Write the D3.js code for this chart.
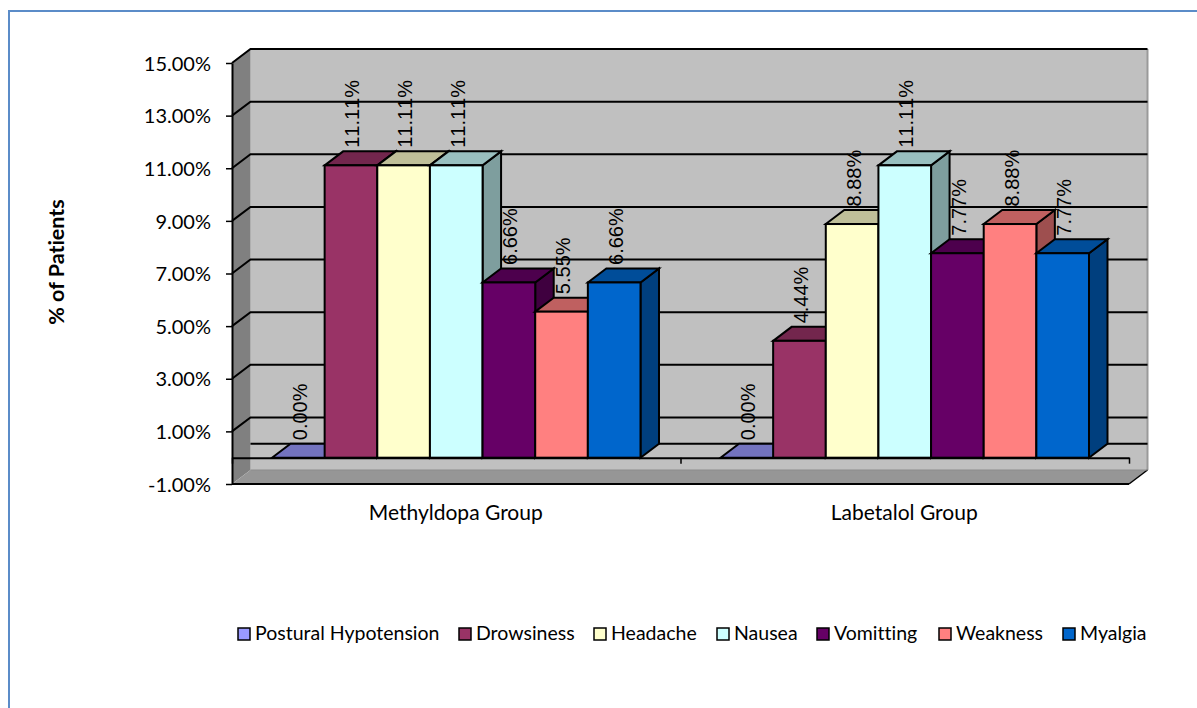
<!DOCTYPE html>
<html>
<head>
<meta charset="utf-8">
<script src="https://cdn.jsdelivr.net/npm/d3@7/dist/d3.min.js"></script>
<style>
  html, body { margin: 0; padding: 0; background: #fff; overflow: hidden; }
  svg { display: block; }
  text { fill: #000; font-variant-ligatures: none; }
</style>
</head>
<body>
<svg id="chart" width="1197" height="708"></svg>
<script>
// Adverse effects by treatment group, percent of patients
const groups = ["Methyldopa Group", "Labetalol Group"];
const effects = ["Postural Hypotension", "Drowsiness", "Headache", "Nausea", "Vomitting", "Weakness", "Myalgia"];
const methyldopa = [0, 11.11, 11.11, 11.11, 6.66, 5.55, 6.66];
const labetalol = [0, 4.44, 8.88, 11.11, 7.77, 8.88, 7.77];
const colours = ["#9999FF", "#993366", "#FFFFCC", "#CCFFFF", "#660066", "#FF8080", "#0066CC"];
const yTicks = [-1, 1, 3, 5, 7, 9, 11, 13, 15];
const legendX = [238, 459, 594, 717, 817, 939, 1063];

const seriesByGroup = [methyldopa, labetalol];
const fmt = v => v.toFixed(2) + "%";

// Oblique projection: the back wall sits up and to the right of the front plane
const depthX = 18.5, depthY = -14;
const y = d3.scaleLinear().domain([-1, 15]).range([484, 63]);
const x0 = d3.scaleBand().domain(groups).range([232, 1129]).paddingInner(0).paddingOuter(0);
const x1 = d3.scaleBand().domain(effects).range([0, x0.bandwidth()]).paddingInner(0).paddingOuter(0.76);

const svg = d3.select("#chart");
const FONT = "Lato, 'Open Sans', sans-serif";
const poly = pts => pts.map(p => p.join(",")).join(" ");

// Frame around the figure
svg.append("path").attr("d", "M9,708V11H1197").attr("fill", "none").attr("stroke", "#5b8cc8").attr("stroke-width", 2);

const [xL, xR] = x0.range();
const yBottom = y(-1), yTop = y(15), yZero = y(0);

// Walls and floor
const walls = svg.append("g");
walls.append("rect").attr("x", xL + depthX).attr("y", yTop + depthY)
  .attr("width", xR - xL).attr("height", yBottom - yTop)
  .attr("fill", "#C0C0C0");
walls.append("path")
  .attr("d", `M${xR + depthX},${yTop + depthY}V${yBottom + depthY}`)
  .attr("stroke", "#9a9a9a").attr("stroke-width", 2);
walls.append("polygon")
  .attr("points", poly([[xL, yTop], [xL + depthX, yTop + depthY], [xL + depthX, yBottom + depthY], [xL, yBottom]]))
  .attr("fill", "#808080");
walls.append("polygon")
  .attr("points", poly([[xL, yBottom], [xR, yBottom], [xR + depthX, yBottom + depthY], [xL + depthX, yBottom + depthY]]))
  .attr("fill", "#969696");
walls.append("path")
  .attr("d", `M${xL},${yTop}L${xL + depthX},${yTop + depthY}`)
  .attr("stroke", "#a8a8a8").attr("stroke-width", 1.5);
walls.append("path")
  .attr("d", `M${xR},${yBottom}L${xR + depthX},${yBottom + depthY}`)
  .attr("stroke", "#000").attr("stroke-width", 1.5);
walls.append("path")
  .attr("d", `M${xL + depthX},${yBottom + depthY}H${xR + depthX}`)
  .attr("stroke", "#8c8c8c").attr("stroke-width", 1);

// Gridlines run along the left wall and across the back wall
const grid = svg.append("g").attr("stroke", "#000").attr("fill", "none").attr("stroke-width", 2);
grid.selectAll("path").data(yTicks.filter(t => t > -1)).join("path")
  .attr("d", t => `M${xL},${y(t)}L${xL + depthX},${y(t) + depthY}H${xR + depthX}`);
grid.append("path")
  .attr("d", `M${xL + depthX},${yZero + depthY}H${xR + depthX}`);

// Value axis
const yAxis = svg.append("g").attr("transform", `translate(${xL},0)`)
  .call(d3.axisLeft(y).tickValues(yTicks).tickSize(6).tickSizeOuter(0).tickPadding(15).tickFormat(fmt));
yAxis.select(".domain").attr("stroke", "#000").attr("stroke-width", 2);
yAxis.selectAll(".tick line").attr("stroke", "#000").attr("stroke-width", 1.5);
yAxis.selectAll("text").attr("font-family", FONT).attr("font-size", 20).attr("dy", "0.36em");

// Baseline of the bars, with category tick marks
svg.append("path")
  .attr("d", `M${xL},${yBottom}H${xR}`).attr("stroke", "#000").attr("stroke-width", 2);
const xAxis = svg.append("g").attr("transform", `translate(0,${yZero})`)
  .call(d3.axisBottom(d3.scaleLinear().domain([0, 2]).range([xL, xR])).tickValues([0, 1, 2]).tickSize(6).tickSizeOuter(0).tickFormat(""));
xAxis.select(".domain").attr("stroke", "#000").attr("stroke-width", 2);
xAxis.selectAll(".tick line").attr("stroke", "#000").attr("stroke-width", 1.5);

// Bars, painted left to right so each front face covers its neighbour's side
const shade = (c, k) => { const q = d3.rgb(c); return d3.rgb(q.r * k, q.g * k, q.b * k).formatHex(); };
const barData = groups.flatMap((g, gi) => effects.map((e, i) => ({ g, e, v: seriesByGroup[gi][i], c: colours[i] })));
const bars = svg.append("g").attr("stroke", "#000").attr("stroke-width", 2).attr("stroke-linejoin", "miter");
barData.forEach(d => {
  const l = x0(d.g) + x1(d.e), r = l + x1.bandwidth(), t = y(d.v), b = y(0);
  const bar = bars.append("g");
  bar.append("polygon").attr("fill", shade(d.c, 0.62))
    .attr("points", poly([[r, b], [r + depthX, b + depthY], [r + depthX, t + depthY], [r, t]]));
  bar.append("polygon").attr("fill", shade(d.c, 0.75))
    .attr("points", poly([[l, t], [l + depthX, t + depthY], [r + depthX, t + depthY], [r, t]]));
  if (d.v > 0) {
    bar.append("rect").attr("x", l).attr("y", t).attr("width", r - l).attr("height", b - t).attr("fill", d.c);
  }
});

// Value labels read upward above each bar
svg.append("g").selectAll("text").data(barData).join("text")
  .attr("transform", d => `translate(${x0(d.g) + x1(d.e) + x1.bandwidth() / 2 + 8.5},${y(d.v) + depthY - 3.5}) rotate(-90)`)
  .attr("font-family", "'Liberation Sans', Arial, sans-serif").attr("font-size", 20)
  .style("font-kerning", "none")
  .text(d => fmt(d.v));

// Axis titles and category names
svg.append("text").attr("transform", "translate(64,262) rotate(-90)").attr("text-anchor", "middle")
  .attr("font-family", FONT).attr("font-weight", 700).attr("font-size", 21.5).text("% of Patients");
svg.append("g").selectAll("text").data(groups).join("text")
  .attr("x", d => x0(d) + x0.bandwidth() / 2 - 0.5).attr("y", 520).attr("text-anchor", "middle")
  .attr("font-family", FONT).attr("font-size", 21).text(d => d);

// Legend
const legend = svg.append("g").selectAll("g").data(effects).join("g")
  .attr("transform", (d, i) => `translate(${legendX[i]},628)`);
legend.append("rect").attr("width", 12).attr("height", 12).attr("stroke", "#000").attr("stroke-width", 1.5)
  .attr("fill", (d, i) => colours[i]);
legend.append("text").attr("x", 17).attr("y", 12).attr("font-family", FONT).attr("font-size", 19.5).text(d => d);
</script>
</body>
</html>
